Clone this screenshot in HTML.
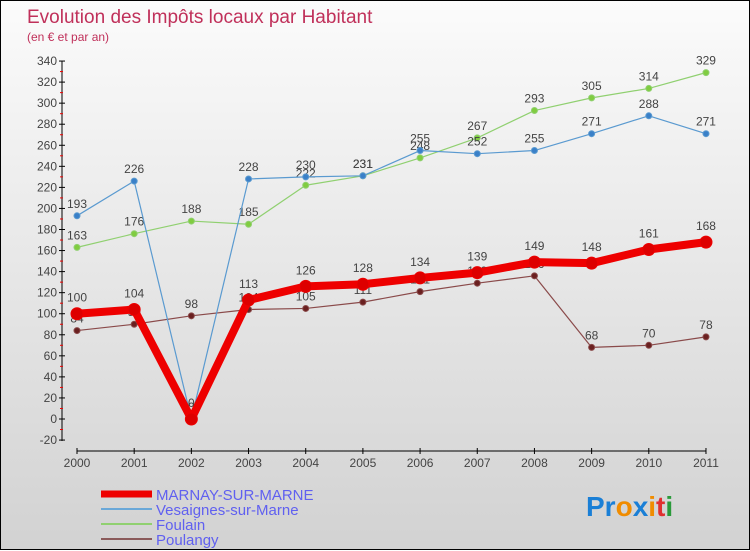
<!DOCTYPE html>
<html><head><meta charset="utf-8"><style>
body{margin:0}
#c{width:748px;height:548px;border:1px solid #000;background:linear-gradient(#fbfbfb,#d2d2d2);position:relative;font-family:"Liberation Sans",sans-serif}
svg{position:absolute;left:0;top:0}
</style></head><body>
<div id="c">
<svg id="s" width="750" height="550">
<text x="26" y="22" font-size="19" fill="#c0305a">Evolution des Impôts locaux par Habitant</text>
<text x="26" y="40" font-size="12" fill="#c0305a">(en € et par an)</text>
<text x="585" y="515" font-size="28" font-weight="bold"><tspan fill="#1a7fd6">Pr</tspan><tspan fill="#f08c00">o</tspan><tspan fill="#1a7fd6">x</tspan><tspan fill="#f08c00">i</tspan><tspan fill="#e03030">t</tspan><tspan fill="#2a9a3a">i</tspan></text>
</svg>
</div>
<script>
const years=[2000,2001,2002,2003,2004,2005,2006,2007,2008,2009,2010,2011];
const marnay=[100,104,0,113,126,128,134,139,149,148,161,168];
const vesaignes=[193,226,0,228,230,231,255,252,255,271,288,271];
const foulain=[163,176,188,185,222,231,248,267,293,305,314,329];
const poulangy=[84,90,98,104,105,111,121,129,136,68,70,78];
const yTicks=[-20,0,20,40,60,80,100,120,140,160,180,200,220,240,260,280,300,320,340];
const NS="http://www.w3.org/2000/svg";
const s=document.getElementById('s');
const X=i=>76+i*57.18;
const Y=v=>418-v*1.0528;
function mk(t,a,p){const e=document.createElementNS(NS,t);for(const k in a)e.setAttribute(k,a[k]);(p||s).appendChild(e);return e;}
let ax=mk('line',{x1:61,y1:60,x2:61,y2:440,stroke:'#000','stroke-width':1});


yTicks.forEach(v=>{
  mk('line',{x1:58,x2:64,y1:Y(v),y2:Y(v),stroke:'#000'});
  if(v<340) mk('line',{x1:59,x2:62,y1:Y(v+10),y2:Y(v+10),stroke:'#e00'});
  const t=mk('text',{x:56,y:Y(v)+4,'font-size':12,fill:'#444','text-anchor':'end'});
  t.textContent=v;
  
  
});
let xa=mk('line',{x1:76,y1:450,x2:X(years.length-1),y2:450,stroke:'#000'});


years.forEach((y,i)=>{
  mk('line',{x1:X(i),x2:X(i),y1:447,y2:453,stroke:'#000'});
  const t=mk('text',{x:X(i),y:466,'font-size':12,fill:'#444','text-anchor':'middle'});
  t.textContent=y;
  
  
});
function series(d,color,w,r,dot,name,dy){
  const g=mk('g',{});
  
  
  mk('polyline',{points:d.map((v,i)=>X(i)+','+Y(v)).join(' '),fill:'none',stroke:color,'stroke-width':w,'stroke-linejoin':'round'},g);
  d.forEach((v,i)=>{
    const c=mk('circle',{cx:X(i),cy:Y(v),r:r,fill:dot,stroke:color,'stroke-width':1},g);
    
    
    const t=mk('text',{x:X(i),y:Y(v)-dy,'font-size':12,fill:'#444','text-anchor':'middle'},g);
    t.textContent=v;
  });
}
series(poulangy,'#8a4a4a',1.2,3,'#6a2020','poulangy-series',8);
series(foulain,'#90d070',1.2,3,'#80cc40','foulain-series',8);
series(vesaignes,'#5a9ad0',1.2,3,'#3a80c8','vesaignes-series',8);
series(marnay,'#ee0000',8,6,'#dd0000','marnay-series',12);
const leg=[['MARNAY-SUR-MARNE','#ee0000',7],['Vesaignes-sur-Marne','#6aa8d8',2],['Foulain','#90d070',2],['Poulangy','#8a5a5a',2]];
leg.forEach((l,i)=>{
  const y=493+i*15;
  mk('line',{x1:100,x2:151,y1:y,y2:y,stroke:l[1],'stroke-width':l[2]});
  const t=mk('text',{x:155,y:y+6,'font-size':15,fill:'#6060f0'});
  t.textContent=l[0];
  
  
});
</script>
</body></html>
